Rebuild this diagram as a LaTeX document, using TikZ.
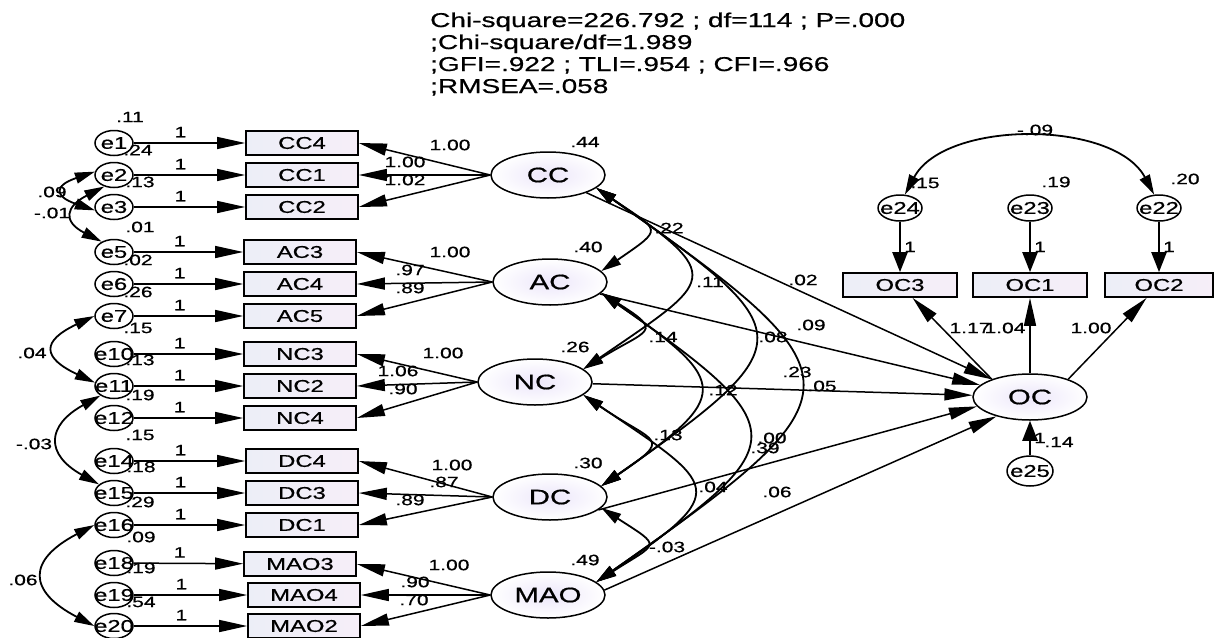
\documentclass[tikz,border=0pt]{standalone}
\usepackage{fontspec}
\setmainfont{Liberation Sans}[FakeStretch=1.4,FakeBold=0.7]
\usetikzlibrary{arrows.meta,shapes.geometric}
\definecolor{boxl}{RGB}{236,238,247}
\definecolor{boxr}{RGB}{246,238,248}
\definecolor{ellin}{RGB}{236,230,250}
\begin{document}
\begin{tikzpicture}[x=1pt,y=-1pt,
  evar/.style={ellipse,draw,line width=1.5pt,fill=white,minimum width=38pt,minimum height=25pt,inner sep=-8pt,font=\fontsize{17}{17}\selectfont},
  obs/.style={rectangle,draw,line width=1.7pt,left color=boxl,right color=boxr,minimum width=112pt,minimum height=24pt,inner sep=0pt,font=\fontsize{17}{17}\selectfont},
  lat/.style={ellipse,draw,line width=1.5pt,inner color=ellin,outer color=white,minimum width=114pt,minimum height=46pt,inner sep=0pt,font=\fontsize{21}{21}\selectfont},
  lbl/.style={inner sep=0pt,font=\fontsize{15}{15}\selectfont},
  pth/.style={line width=1.5pt,arrows={-Triangle[length=28pt,width=12pt]}},
  vpth/.style={line width=2.4pt,arrows={-Triangle[length=20pt,width=15pt]}},
  cov/.style={line width=1.8pt,arrows={Triangle[length=20pt,width=11pt]-Triangle[length=20pt,width=11pt]}},
]
\useasboundingbox (0,0) rectangle (1214,637);

% fit statistics
\node[anchor=base west,align=left,inner sep=0pt,font=\fontsize{20}{22}\selectfont] (fit) at (430,93)
  {Chi-square=226.792 ; df=114 ; P=.000\\;Chi-square/df=1.989\\;GFI=.922 ; TLI=.954 ; CFI=.966\\;RMSEA=.058};

% observed indicators (left)
\foreach \n/\x/\y in {CC4/302/143,CC1/302/175,CC2/302/207,AC3/300/252,AC4/300/284,AC5/300/316,NC3/300/354,NC2/300/386,NC4/300/418,DC4/302/461,DC3/302/493,DC1/302/525,MAO3/300/564,MAO4/304/595,MAO2/304/626}
  \node[obs] (\n) at (\x,\y) {\n};

% error terms (left)
\foreach \n/\y in {e1/143,e2/175,e3/207,e5/252,e6/284,e7/316,e10/354,e11/386,e12/418,e14/461,e15/493,e16/525,e18/563,e19/595,e20/626}
  \node[evar] (\n) at (114,\y) {\n};

% error -> indicator
\foreach \e/\b in {e1/CC4,e2/CC1,e3/CC2,e5/AC3,e6/AC4,e7/AC5,e10/NC3,e11/NC2,e12/NC4,e14/DC4,e15/DC3,e16/DC1,e18/MAO3,e19/MAO4,e20/MAO2}
  \draw[pth] (\e) -- (\b) node[lbl,pos=0.42,above=5pt] (one\e) {1};

% error variances (left)
\foreach \t/\x/\y [count=\i] in {.11/130/117,.24/138/150,.13/140/182,.01/140/227,.02/138/260,.26/138/292,.15/138/328,.13/140/360,.19/140/395,.15/140/435,.18/141/467,.29/140/502,.09/141/537,.19/141/568,.54/141/602}
  \node[lbl] (ev\i) at (\x,\y) {\t};

% error covariances (left)
\draw[cov] (e2.170) .. controls +(-41,14) and +(-41,-14) .. (e3.190);
\draw[cov] (e2.230) .. controls +(-39,20) and +(-39,-20) .. (e5.140);
\draw[cov] (e7.180) .. controls +(-53,25) and +(-53,-25) .. (e11.170);
\draw[cov] (e11.215) .. controls +(-54,30) and +(-54,-30) .. (e15.150);
\draw[cov] (e16.180) .. controls +(-67,35) and +(-67,-35) .. (e20.180);
\node[lbl] (c1) at (52,192) {.09};
\node[lbl] (c2) at (52,213) {-.01};
\node[lbl] (c3) at (32,353) {.04};
\node[lbl] (c4) at (34,444) {-.03};
\node[lbl] (c5) at (23,580) {.06};

% latent factors
\node[lat] (CC) at (548,175) {CC};
\node[lat] (AC) at (550,282) {AC};
\node[lat] (NC) at (535,382) {NC};
\node[lat] (DC) at (550,497) {DC};
\node[lat] (MAO) at (548,595) {MAO};
\node[lat] (OC) at (1030,397) {OC};

% loadings
\foreach \l/\b in {CC/CC4,CC/CC1,CC/CC2,AC/AC3,AC/AC4,AC/AC5,NC/NC3,NC/NC2,NC/NC4,DC/DC4,DC/DC3,DC/DC1,MAO/MAO3,MAO/MAO4,MAO/MAO2}
  \draw[pth] (\l.west) -- (\b.east);
\foreach \t/\x/\y [count=\i] in {1.00/450/145,1.00/405/162,1.02/405/180,1.00/450/252,.97/410/270,.89/410/288,1.00/443/353,1.06/398/371,.90/403/389,1.00/452/465,.87/444/482,.89/410/500,1.00/449/565,.90/415/582,.70/414/600}
  \node[lbl] (ld\i) at (\x,\y) {\t};

% factor variances
\foreach \t/\x/\y [count=\i] in {.44/585/142,.40/588/247,.26/575/347,.30/588/463,.49/585/560}
  \node[lbl] (fv\i) at (\x,\y) {\t};

% factor covariances
\draw[cov] (CC.-15) .. controls +(64,44) and +(64,-44) .. (AC.12);
\draw[cov] (AC.-12) .. controls +(64,40) and +(64,-40) .. (NC.15);
\draw[cov] (NC.-15) .. controls +(73,50) and +(73,-50) .. (DC.12);
\draw[cov] (DC.-12) .. controls +(62,40) and +(62,-40) .. (MAO.15);
\draw[cov] (CC.-15) .. controls +(131,90) and +(131,-90) .. (NC.15);
\draw[cov] (AC.-12) .. controls +(130,90) and +(130,-90) .. (DC.12);
\draw[cov] (NC.-15) .. controls +(136,92) and +(136,-92) .. (MAO.15);
\draw[cov] (CC.-15) .. controls +(206,144) and +(206,-144) .. (DC.12);
\draw[cov] (AC.-12) .. controls +(198,138) and +(198,-138) .. (MAO.15);
\draw[cov] (CC.-15) .. controls +(271,190) and +(271,-190) .. (MAO.15);

% structural paths
\draw[pth] (CC) -- (OC);
\draw[pth] (AC) -- (OC);
\draw[pth] (NC) -- (OC);
\draw[pth] (DC.-15) -- (OC.190);
\draw[pth] (MAO.5) -- (OC.210);

\foreach \t/\x/\y [count=\i] in {.22/669/228,.14/663/337,.13/668/435,-.03/667/547,.11/710/282,.12/723/390,.04/713/487,.08/773/337,.00/772/438,.23/797/372,.02/803/280,.09/811/325,.05/822/386,.39/765/448,.06/777/492}
  \node[lbl] (cv\i) at (\x,\y) {\t};

% outcome indicators
\node[obs,minimum width=114pt] (OC3) at (900,285) {OC3};
\node[obs,minimum width=114pt] (OC1) at (1030,285) {OC1};
\node[obs,minimum width=108pt] (OC2) at (1159,285) {OC2};
\node[evar,minimum width=44pt,minimum height=26pt] (e24) at (900,208) {e24};
\node[evar,minimum width=44pt,minimum height=26pt] (e23) at (1030,208) {e23};
\node[evar,minimum width=44pt,minimum height=26pt] (e22) at (1159,208) {e22};
\node[evar,minimum width=46pt,minimum height=30pt] (e25) at (1030,471) {e25};

\node[lbl] (v24) at (925,183) {.15};
\node[lbl] (v23) at (1056,182) {.19};
\node[lbl] (v22) at (1185,179) {.20};
\node[lbl] (v25) at (1059,442) {.14};

\draw[vpth] (e24) -- (OC3) node[lbl,midway,right=3pt] (o24) {1};
\draw[vpth] (e23) -- (OC1) node[lbl,midway,right=3pt] (o23) {1};
\draw[vpth] (e22) -- (OC2) node[lbl,midway,right=3pt] (o22) {1};
\draw[vpth] (e25) -- (OC) node[lbl,midway,right=3pt] (o25) {1};

\draw[cov] (e24.70) .. controls +(40,-75) and +(-40,-75) .. (e22.110);
\node[lbl] (c6) at (1035,130) {-.09};

\draw[pth] (OC.155) -- (OC3);
\draw[pth] (OC) -- (OC1);
\draw[pth] (OC.25) -- (OC2);
\node[lbl] (l17) at (970,328) {1.17};
\node[lbl] (l04) at (1005,328) {1.04};
\node[lbl] (l00) at (1091,328) {1.00};
\end{tikzpicture}
\end{document}
